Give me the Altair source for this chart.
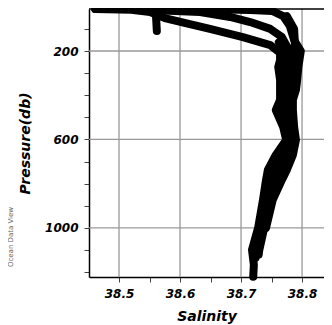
import altair as alt
import pandas as pd

# CTD casts (pressure in db, salinity)
cast_a_p = [10, 10, 10, 15, 19, 42, 87, 150, 200, 272, 331, 376, 421, 467, 543, 602, 670, 738, 783, 873, 1000]
cast_a_s = [38.461, 38.551, 38.633, 38.715, 38.751, 38.769, 38.780, 38.787, 38.798, 38.794, 38.792, 38.790,
            38.785, 38.785, 38.787, 38.790, 38.785, 38.775, 38.767, 38.752, 38.741]

cast_d_p = [42, 100, 200, 272, 331, 376, 421, 467, 543, 602, 670, 738, 783, 873, 950]
cast_d_s = [38.775, 38.787, 38.789, 38.786, 38.785, 38.785, 38.780, 38.779, 38.784, 38.787, 38.779, 38.767,
            38.761, 38.749, 38.742]

cast_c_p = [15, 24, 46, 69, 100, 137, 177, 200, 272, 331, 376, 421, 467, 543, 602, 670, 738, 783, 873, 1000,
            1099, 1120]
cast_c_s = [38.551, 38.633, 38.682, 38.715, 38.748, 38.767, 38.775, 38.780, 38.778, 38.779, 38.779, 38.775,
            38.772, 38.779, 38.784, 38.772, 38.759, 38.754, 38.746, 38.738, 38.730, 38.729]

cast_e_p = [160, 200, 272, 331, 376, 421, 467, 543, 602, 670, 738, 783, 873, 1000, 1099, 1135]
cast_e_s = [38.762, 38.772, 38.770, 38.772, 38.772, 38.770, 38.766, 38.774, 38.779, 38.766, 38.752, 38.748,
            38.741, 38.733, 38.725, 38.724]

cast_b_p = [10, 13, 24, 51, 78, 100, 137, 173, 209, 241, 272, 331, 376, 421, 467, 543, 602, 670, 738, 783,
            873, 1000, 1099, 1167, 1221]
cast_b_s = [38.461, 38.520, 38.551, 38.575, 38.616, 38.649, 38.703, 38.748, 38.764, 38.764, 38.761, 38.764,
            38.764, 38.764, 38.757, 38.769, 38.774, 38.757, 38.744, 38.741, 38.736, 38.728, 38.718, 38.721, 38.720]

cast_f_p = [15, 60, 110]
cast_f_s = [38.560, 38.561, 38.562]

x_grid = [38.5, 38.6, 38.7, 38.8]
x_ticks = [38.5, 38.55, 38.6, 38.65, 38.7, 38.75, 38.8]
y_grid = [200, 600, 1000]
y_ticks = [100, 200, 300, 400, 500, 600, 700, 800, 900, 1000, 1100, 1200]
x_domain = [38.4508, 38.836]
y_domain = [10, 1222]

rows = []
for name, ps, ss in [("A", cast_a_p, cast_a_s), ("D", cast_d_p, cast_d_s), ("C", cast_c_p, cast_c_s),
                     ("E", cast_e_p, cast_e_s), ("B", cast_b_p, cast_b_s), ("F", cast_f_p, cast_f_s)]:
    for i, (p, s) in enumerate(zip(ps, ss)):
        rows.append({"cast": name, "i": i, "p": p, "s": s})
df = pd.DataFrame(rows)

FONT = "DejaVu Sans"
xscale = alt.Scale(domain=x_domain, nice=False, zero=False)
yscale = alt.Scale(domain=y_domain, reverse=True, nice=False, zero=False)

xaxis = alt.Axis(values=x_ticks, grid=False, title="Salinity",
                 labelExpr="round(datum.value*100) % 10 == 0 ? format(datum.value, '.1f') : ''",
                 tickSize=5, tickColor="#444", domainColor="black", domainWidth=1.5,
                 labelFont=FONT, labelFontSize=12, labelFontWeight="bold", labelFontStyle="italic",
                 labelColor="black", labelPadding=6, labelFlush=False,
                 titleFont=FONT, titleFontSize=14, titleFontWeight="bold", titleFontStyle="italic",
                 titleColor="black", titlePadding=10)
yaxis = alt.Axis(values=y_ticks, grid=False, title="Pressure(db)",
                 labelExpr="indexof([200,600,1000], datum.value) >= 0 ? format(datum.value, 'd') : ''",
                 tickSize=5, tickColor="#444", domainColor="black", domainWidth=1.5,
                 labelFont=FONT, labelFontSize=12, labelFontWeight="bold", labelFontStyle="italic",
                 labelColor="black", labelPadding=6, labelFlush=False,
                 titleFont=FONT, titleFontSize=14, titleFontWeight="bold", titleFontStyle="italic",
                 titleColor="black", titlePadding=12)

vgrid = alt.Chart(pd.DataFrame({"s": x_grid})).mark_rule(color="#999", strokeWidth=1.3).encode(
    x=alt.X("s:Q", scale=xscale, axis=xaxis))
hgrid = alt.Chart(pd.DataFrame({"p": y_grid})).mark_rule(color="#999", strokeWidth=1.3).encode(
    y=alt.Y("p:Q", scale=yscale, axis=yaxis))

lines = alt.Chart(df).mark_line(color="black", strokeWidth=8, strokeCap="round", strokeJoin="round").encode(
    x=alt.X("s:Q", scale=xscale, axis=xaxis),
    y=alt.Y("p:Q", scale=yscale, axis=yaxis),
    detail="cast:N",
    order="i:Q",
)

top = alt.Chart(pd.DataFrame({"p": [y_domain[0]]})).mark_rule(color="black", strokeWidth=1.5).encode(
    y=alt.Y("p:Q", scale=yscale, axis=yaxis))

odv = alt.Chart(pd.DataFrame({"t": ["Ocean Data View"]})).mark_text(
    angle=270, fontSize=7, color="#666", font=FONT).encode(
    x=alt.value(-78), y=alt.value(228), text="t:N")

chart = alt.layer(vgrid, hgrid, lines, top, odv).properties(
    width=235, height=268,
    autosize=alt.AutoSizeParams(type="none"),
    padding={"left": 81, "top": 1, "right": 0, "bottom": 52},
).configure_view(stroke="transparent")

chart.save("out.html", embed_options={"renderer": "svg", "actions": False})
